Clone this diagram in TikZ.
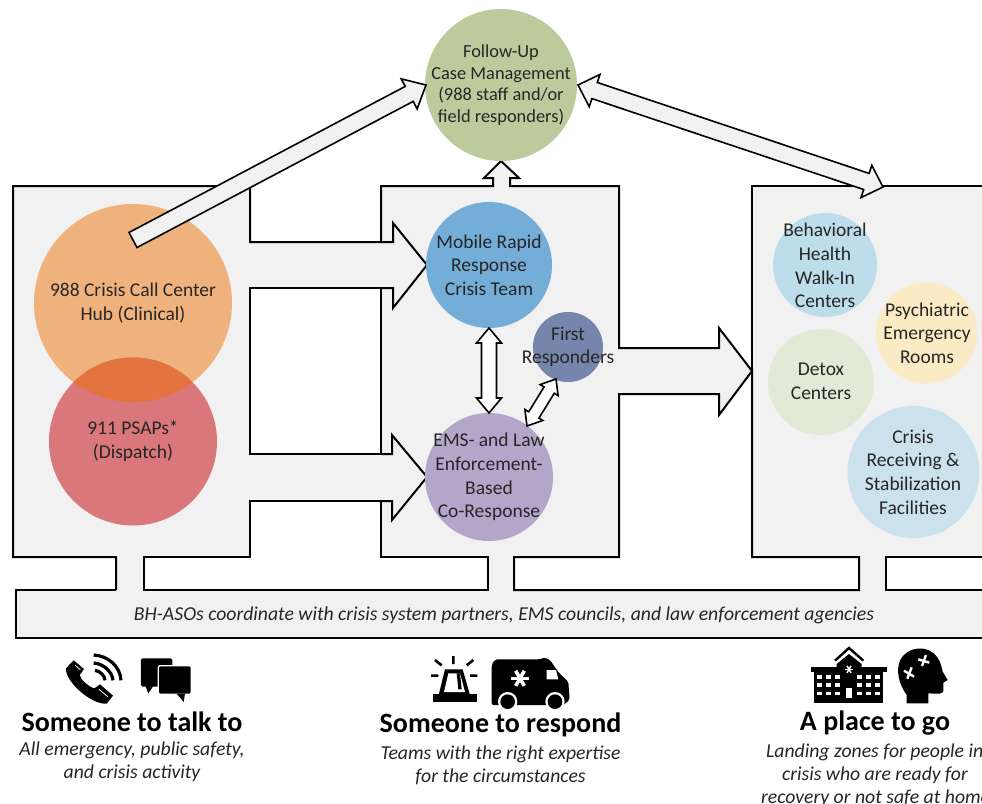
\documentclass[tikz,border=0pt]{standalone}
\usepackage{fontspec}
\setmainfont{Carlito}
\usetikzlibrary{calc}
\definecolor{panel}{HTML}{F1F1F2}
\definecolor{ink}{HTML}{262626}
\definecolor{cgreen}{HTML}{BCCB9B}
\definecolor{corange}{HTML}{F0B27C}
\definecolor{cred}{HTML}{D9777A}
\definecolor{coverlap}{HTML}{E4743F}
\definecolor{cblue}{HTML}{74ADD8}
\definecolor{cslate}{HTML}{7585AB}
\definecolor{cpurple}{HTML}{B3A6C8}
\definecolor{cpaleblue}{HTML}{BDDDEA}
\definecolor{cyellow}{HTML}{FBEBC5}
\definecolor{cpalegreen}{HTML}{E1EAD6}
\definecolor{cpaleblueb}{HTML}{CBE2EC}
\tikzset{
  disc/.style={circle,draw=none,inner sep=0pt},
  lbl/.style={align=center,text=ink,font=\fontsize{19.5}{23.7}\selectfont,inner sep=0pt},
  lblsmall/.style={lbl,font=\fontsize{18.4}{21.7}\selectfont},
  head/.style={align=center,text=black,font=\fontsize{28}{30}\bfseries\selectfont,inner sep=0pt},
  sub/.style={align=center,text=ink,font=\fontsize{19.7}{23}\itshape\selectfont,inner sep=0pt},
  rim/.style={draw=black,line width=2pt,line join=miter},
  rimthin/.style={draw=black,line width=1.6pt,line join=miter},
  ray/.style={black,line width=2.6pt},
  wave/.style={black,line width=3.2pt},
}
% block arrows between named points
\newcommand{\singlearrow}[6]{% from,to,stem half,head half,head length,fill
  \coordinate (hb) at ($(#2)!#5pt!(#1)$);
  \draw[rimthin,fill=#6] ($(#1)!#3pt!90:(#2)$) -- ($(hb)!#3pt!-90:(#1)$) -- ($(hb)!#4pt!-90:(#1)$) -- (#2)
    -- ($(hb)!#4pt!90:(#1)$) -- ($(hb)!#3pt!90:(#1)$) -- ($(#1)!#3pt!-90:(#2)$) -- cycle;}
\newcommand{\doublearrow}[6]{%
  \coordinate (hb) at ($(#2)!#5pt!(#1)$);\coordinate (ha) at ($(#1)!#5pt!(#2)$);
  \draw[rimthin,fill=#6] (#1) -- ($(ha)!#4pt!90:(#2)$) -- ($(ha)!#3pt!90:(#2)$) -- ($(hb)!#3pt!-90:(#1)$) -- ($(hb)!#4pt!-90:(#1)$) -- (#2)
    -- ($(hb)!#4pt!90:(#1)$) -- ($(hb)!#3pt!90:(#1)$) -- ($(ha)!#3pt!-90:(#2)$) -- ($(ha)!#4pt!-90:(#2)$) -- cycle;}
\newcommand{\asterisk}[3]{% x,y,arm
  \foreach \a in {0,60,120}{\draw[white,line width=3.6pt,rotate around={\a:(#1,#2)}] (#1-#3,#2) -- (#1+#3,#2);}}
\begin{document}
\begin{tikzpicture}[x=1pt,y=-1pt]
\useasboundingbox (0,0) rectangle (982,803);
\clip (0,0) rectangle (982,803);
\fill[white] (0,0) rectangle (982,803);
% panel background
\fill[panel] (13,186) -- (250,186) -- (250,242) -- (381,242) -- (381,186) -- (493,186) -- (493,178) -- (484,178) -- (501,161) -- (519,178) -- (510,178) -- (510,186)
  -- (619,186) -- (619,348) -- (719,348) -- (719,328) -- (752,371) -- (752,186) -- (983,186) -- (983,557) -- (886,557) -- (886,590) -- (983,590) -- (983,638)
  -- (16,638) -- (16,590) -- (116,590) -- (116,557) -- (13,557) -- cycle;
% outline
\draw[rim] (116,590) -- (16,590) -- (16,638) -- (983,638);
\draw[rim] (116,590) -- (116,557) -- (13,557) -- (13,186) -- (250,186) -- (250,242) -- (381,242) -- (381,186) -- (493,186) -- (493,178) -- (484,178) -- (501,161) -- (519,178) -- (510,178) -- (510,186)
  -- (619,186) -- (619,348) -- (719,348) -- (719,328) -- (752,371);
\draw[rim] (752,371) -- (752,186) -- (983,186);
\draw[rim] (983,557) -- (886,557) -- (886,590) -- (983,590);
% white openings
\draw[rim,fill=white] (250,288) rectangle (381,454);
\draw[rim,fill=white] (144,590) -- (144,557) -- (250,557) -- (250,501) -- (381,501) -- (381,557) -- (488,557) -- (488,590) -- cycle;
\draw[rim,fill=white] (619,394) -- (719,394) -- (719,415) -- (752,371) -- (752,557) -- (859,557) -- (859,590) -- (514,590) -- (514,557) -- (619,557) -- cycle;
% arrowheads entering the centre panel
\draw[rim] (381,242) -- (393,242) -- (393,223) -- (427,265) -- (393,308) -- (393,288) -- (381,288);
\draw[rim] (381,454) -- (392,454) -- (392,435) -- (427,477) -- (392,520) -- (392,501) -- (381,501);
% circles
\node[disc,fill=cgreen,minimum size=152pt] (follow) at (501,85) {};
\node[disc,fill=corange,minimum size=198pt] (hub) at (133,303) {};
\node[disc,fill=cred,minimum size=168pt] (psap) at (133,441.5) {};
\begin{scope}
  \clip (133,303) circle (99);
  \fill[coverlap] (133,441.5) circle (84);
\end{scope}
\node[disc,fill=cblue,minimum size=126pt] (mobile) at (489,265) {};
\node[disc,fill=cslate,minimum size=70pt] (first) at (568,347) {};
\node[disc,fill=cpurple,minimum size=128pt] (ems) at (489,477) {};
\node[disc,fill=cpaleblue,minimum size=104pt] (walkin) at (825,265) {};
\node[disc,fill=cyellow,minimum size=101pt] (psych) at (926.5,333) {};
\node[disc,fill=cpalegreen,minimum size=106pt] (detox) at (821,382) {};
\node[disc,fill=cpaleblueb,minimum size=132pt] (crisis) at (913.5,472) {};
% block arrows
\coordinate (a1s) at (133,240); \coordinate (a1e) at (426,85);
\singlearrow{a1s}{a1e}{8.5}{17}{19}{panel}
\coordinate (a2s) at (578,85); \coordinate (a2e) at (883,187);
\doublearrow{a2s}{a2e}{8.5}{17}{17.5}{panel}
\coordinate (a3s) at (489,328); \coordinate (a3e) at (489,413);
\doublearrow{a3s}{a3e}{7.5}{12.5}{15}{white}
\coordinate (a4s) at (556,379); \coordinate (a4e) at (527,426);
\doublearrow{a4s}{a4e}{6}{10.5}{13}{white}
% circle labels
\node[lblsmall] (tfollow) at (501,85) {Follow-Up\\Case Management\\(988 staff and/or\\field responders)};
\node[lbl] (thub) at (133,303) {988 Crisis Call Center\\Hub (Clinical)};
\node[lbl] (tpsap) at (133,441) {911 PSAPs*\\(Dispatch)};
\node[lbl] (tmobile) at (489,265) {Mobile Rapid\\Response\\Crisis Team};
\node[lbl] (tfirst) at (568,347) {First\\Responders};
\node[lbl] (tems) at (489,477) {EMS- and Law\\Enforcement-\\Based\\Co-Response};
\node[lbl] (twalkin) at (825,265.5) {Behavioral\\Health\\Walk-In\\Centers};
\node[lbl] (tpsych) at (927,333) {Psychiatric\\Emergency\\Rooms};
\node[lbl] (tdetox) at (821,381.5) {Detox\\Centers};
\node[lbl] (tcrisis) at (913,472) {Crisis\\Receiving \&\\Stabilization\\Facilities};
\node[sub] (tbar) at (504,615) {BH-ASOs coordinate with crisis system partners, EMS councils, and law enforcement agencies};
% bottom captions
\node[head] (h1) at (132,722) {Someone to talk to};
\node[sub] (s1) at (132,761.5) {All emergency, public safety,\\and crisis activity};
\node[head] (h2) at (500.5,725) {Someone to respond};
\node[sub] (s2) at (500.5,765.5) {Teams with the right expertise\\for the circumstances};
\node[head] (h3) at (875,723) {A place to go};
\node[sub,anchor=base west] (s3a) at (766,757.5) {Landing zones for people in};
\node[sub,anchor=base] (s3b) at (875,780.5) {crisis who are ready for};
\node[sub,anchor=base west] (s3c) at (761,803) {recovery or not safe at home};
% phone and speech bubbles
\begin{scope}[shift={(55,645)},x=0.3333pt,y=-0.3333pt]
  \fill[black,line join=round] (56,46) -- (87,72) -- (74,90) .. controls (78,105) and (100,125) .. (118,130) -- (135,118) -- (174,152) -- (155,176) .. controls (110,180) and (30,110) .. (33,70) -- cycle;
  \draw[white,line width=.8pt] (60,60) -- (76,74) (132,133) -- (158,155);
  \draw[wave] (116,30) .. controls (160,32) and (196,65) .. (198,106);
  \draw[wave] (116,54) .. controls (145,56) and (172,80) .. (174,106);
  \draw[wave] (120,76) .. controls (135,78) and (150,92) .. (150,106);
  \fill[black,rounded corners=1.5pt] (258,40) rectangle (352,125);
  \fill[black] (270,120) -- (280,145) -- (297,120) -- cycle;
  \draw[white,line width=1.3pt,fill=black,rounded corners=2pt] (310,62) rectangle (409,148);
  \fill[black] (365,146) -- (386,171) -- (390,146) -- cycle;
\end{scope}
% siren and ambulance
\begin{scope}[shift={(420,650)},x=0.3333pt,y=-0.3333pt]
  \draw[ray] (45,30) -- (65,46) (100,18) -- (100,42) (160,30) -- (140,46) (33,77) -- (55,77) (150,77) -- (172,77);
  \fill[black] (75,58) -- (128,58) -- (150,135) -- (56,135) -- cycle;
  \fill[white] (85,70) -- (120,70) -- (135,126) -- (72,126) -- cycle;
  \fill[black] (110,70) -- (120,70) -- (125,118) -- (115,118) -- cycle;
  \fill[black] (40,133) rectangle (170,155);
  \fill[black,rounded corners=2pt] (215,45) -- (225,28) -- (360,28) -- (375,22) -- (392,32) -- (402,48) -- (420,72) -- (445,95) -- (449,150) -- (430,165) -- (215,165) -- cycle;
  \fill[white] (263,155) circle (29) (405,155) circle (29);
  \fill[black] (263,155) circle (22) (405,155) circle (22);
  \fill[white] (380,60) -- (408,60) -- (415,88) -- (380,88) -- cycle;
  \asterisk{300}{85}{26}
\end{scope}
% hospital and head
\begin{scope}[shift={(800,640)},x=0.3333pt,y=-0.3333pt]
  \fill[black] (42,95) rectangle (250,190);
  \fill[black] (32,82) rectangle (260,96);
  \fill[black] (110,100) -- (110,72) -- (147,42) -- (185,72) -- (185,100) -- cycle;
  \draw[black,line width=2.4pt] (105,62) -- (147,24) -- (190,62);
  \foreach \y in {105,130,155}{\foreach \x in {52,79,106,172,199,226}{\fill[white] (\x,\y) rectangle +(14,11);}}
  \fill[white] (138,145) rectangle (157,175);
  \foreach \a in {0,60,120}{\draw[white,line width=1.5pt,rotate around={\a:(147,88)}] (135,88) -- (159,88);}
  \fill[black] (320,190) -- (320,165) .. controls (295,130) and (288,90) .. (300,62) .. controls (320,18) and (385,12) .. (412,52) .. controls (425,72) and (425,85) .. (428,95) -- (443,120) -- (430,128) -- (430,152) .. controls (428,162) and (420,162) .. (385,160) -- (385,190) -- cycle;
  \draw[white,line width=2.4pt] (312,92) -- (342,110) (335,82) -- (322,116) (355,58) -- (388,68) (378,45) -- (366,78);
\end{scope}
\end{tikzpicture}
\end{document}
